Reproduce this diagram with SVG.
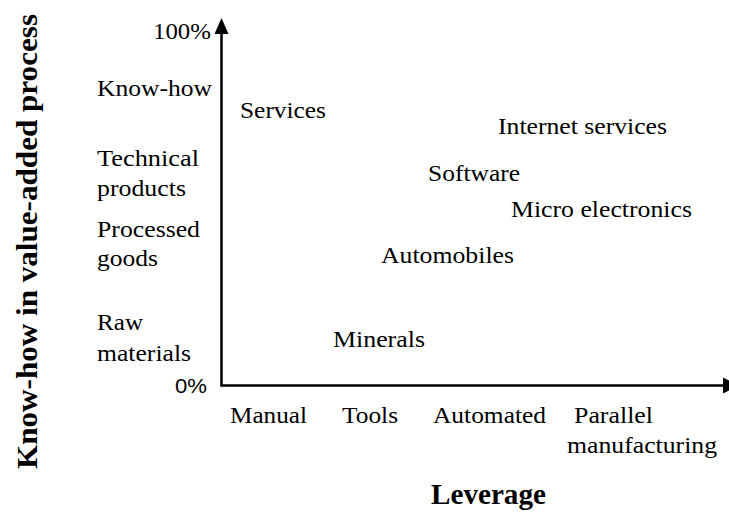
<svg xmlns="http://www.w3.org/2000/svg" width="729" height="512" viewBox="0 0 729 512">
<defs>
<style>
.t{font-family:"Liberation Serif","Times New Roman",serif;font-size:23.5px;fill:#000}
.s{font-family:"Liberation Sans",Arial,sans-serif;font-size:21px;fill:#000}
.b{font-family:"Liberation Serif","Times New Roman",serif;font-weight:bold;fill:#000}
.ax{stroke:#000;stroke-width:2.5;fill:none}
</style>
</defs>
<rect width="729" height="512" fill="#fff"/>
<g id="axes">
<path class="ax" d="M221.5 32 V385.5 H726"/>
<polygon points="221.5,18 214.5,34 228.5,34" fill="#000"/>
<polygon points="723,377.5 739,385.5 723,393.5" fill="#000"/>
</g>
<g id="y-labels">
<text class="t" x="153" y="39" textLength="58" lengthAdjust="spacingAndGlyphs">100%</text>
<text class="t" x="97" y="96" textLength="115" lengthAdjust="spacingAndGlyphs">Know-how</text>
<text class="t" x="97" y="166" textLength="102" lengthAdjust="spacingAndGlyphs">Technical</text>
<text class="t" x="97" y="196" textLength="89" lengthAdjust="spacingAndGlyphs">products</text>
<text class="t" x="97" y="237" textLength="103" lengthAdjust="spacingAndGlyphs">Processed</text>
<text class="t" x="97" y="266" textLength="61" lengthAdjust="spacingAndGlyphs">goods</text>
<text class="t" x="97" y="330" textLength="46" lengthAdjust="spacingAndGlyphs">Raw</text>
<text class="t" x="97" y="361" textLength="94" lengthAdjust="spacingAndGlyphs">materials</text>
<text class="s" x="175" y="393" textLength="32" lengthAdjust="spacingAndGlyphs">0%</text>
</g>
<g id="points">
<text class="t" x="240" y="118" textLength="86" lengthAdjust="spacingAndGlyphs">Services</text>
<text class="t" x="498" y="134" textLength="169" lengthAdjust="spacingAndGlyphs">Internet services</text>
<text class="t" x="428" y="181" textLength="92" lengthAdjust="spacingAndGlyphs">Software</text>
<text class="t" x="511" y="217" textLength="181" lengthAdjust="spacingAndGlyphs">Micro electronics</text>
<text class="t" x="381" y="263" textLength="133" lengthAdjust="spacingAndGlyphs">Automobiles</text>
<text class="t" x="333" y="347" textLength="92" lengthAdjust="spacingAndGlyphs">Minerals</text>
</g>
<g id="x-labels">
<text class="t" x="230" y="423" textLength="77" lengthAdjust="spacingAndGlyphs">Manual</text>
<text class="t" x="342" y="423" textLength="56" lengthAdjust="spacingAndGlyphs">Tools</text>
<text class="t" x="433" y="423" textLength="113" lengthAdjust="spacingAndGlyphs">Automated</text>
<text class="t" x="574" y="423" textLength="79" lengthAdjust="spacingAndGlyphs">Parallel</text>
<text class="t" x="567" y="453" textLength="150" lengthAdjust="spacingAndGlyphs">manufacturing</text>
</g>
<g id="titles">
<text class="b" x="431" y="504" font-size="29" textLength="115" lengthAdjust="spacingAndGlyphs">Leverage</text>
<text class="b" font-size="30" transform="translate(37,469) rotate(-90)" x="0" y="0" textLength="455" lengthAdjust="spacingAndGlyphs">Know-how in value-added process</text>
</g>
</svg>
